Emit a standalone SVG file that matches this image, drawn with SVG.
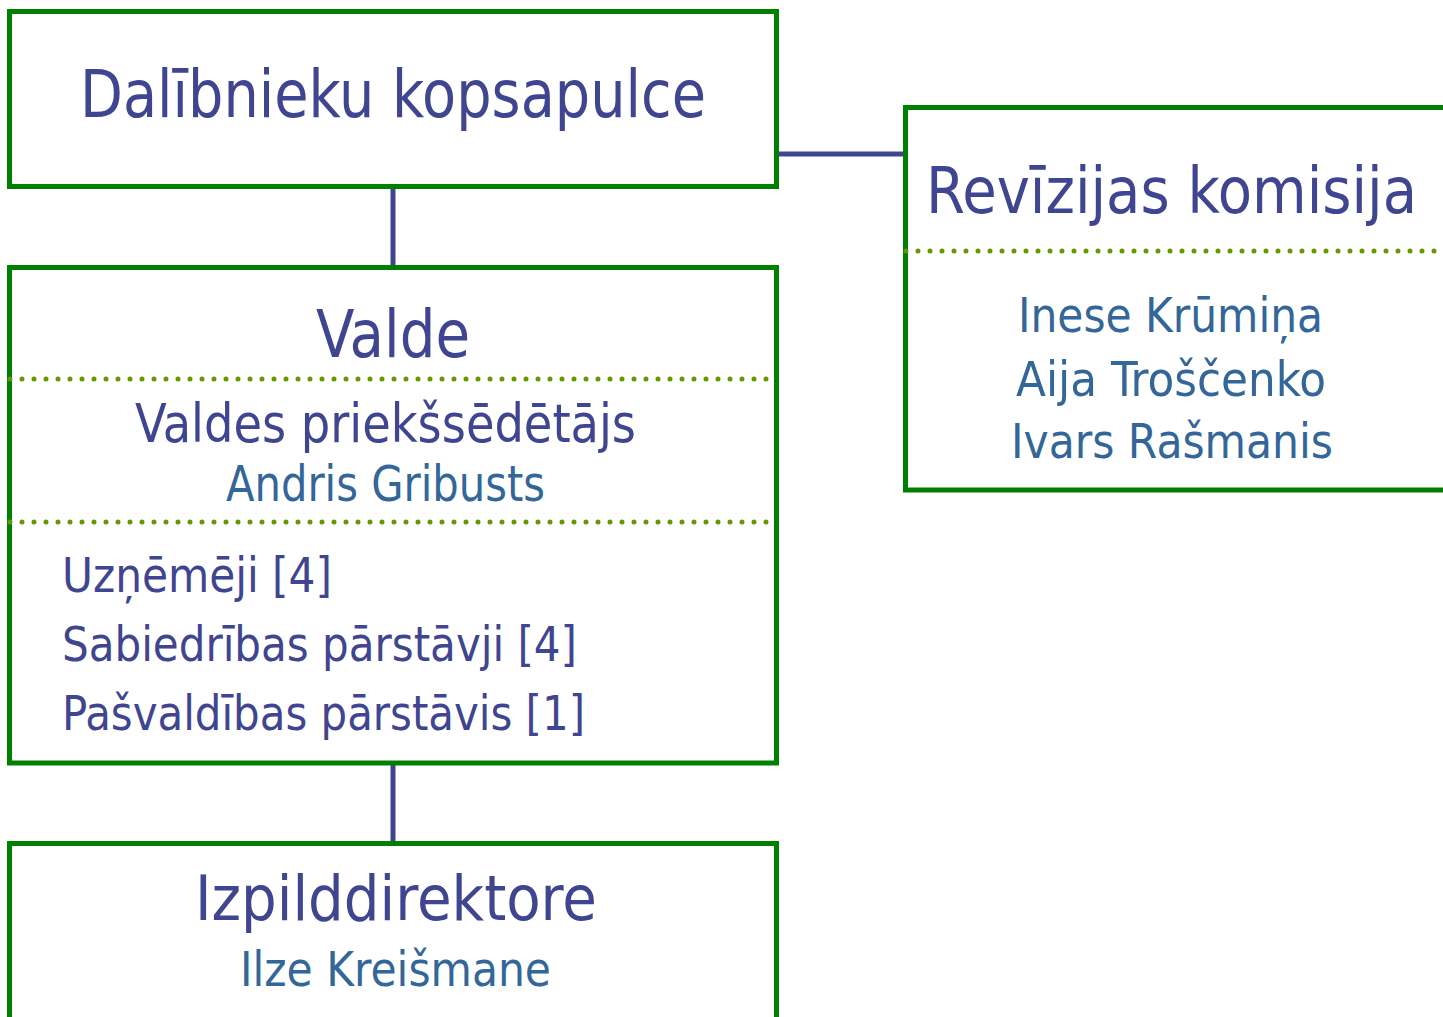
<svg xmlns="http://www.w3.org/2000/svg" width="1443" height="1017" viewBox="0 0 1443 1017">
<style>
.box{fill:#fff;stroke:#008000;stroke-width:5}
.dots{stroke:#669900;stroke-width:5;stroke-linecap:round;stroke-dasharray:0 12;fill:none}
.conn{stroke:#3F4590;stroke-width:5;fill:none}
text{font-family:"DejaVu Sans Condensed","DejaVu Sans",sans-serif;font-stretch:condensed}
.t{fill:#3F4590}
.n{fill:#336699}
</style>
<rect width="1443" height="1017" fill="#fff"/>
<g id="connectors">
<line class="conn" x1="393" y1="186" x2="393" y2="267"/>
<line class="conn" x1="393" y1="763" x2="393" y2="844"/>
<line class="conn" x1="777" y1="154" x2="906" y2="154"/>
</g>
<g id="kopsapulce">
<rect class="box" x="9.5" y="11.5" width="767" height="175"/>
<text class="t" x="80" y="117" font-size="66" textLength="626" lengthAdjust="spacingAndGlyphs">Dalībnieku kopsapulce</text>
</g>
<g id="valde">
<rect class="box" x="9.5" y="267.5" width="767" height="495.5"/>
<text class="t" x="316" y="357" font-size="66" textLength="154" lengthAdjust="spacingAndGlyphs">Valde</text>
<line class="dots" x1="10" y1="379" x2="770" y2="379"/>
<text class="t" x="135" y="442" font-size="53" textLength="501" lengthAdjust="spacingAndGlyphs">Valdes priekšsēdētājs</text>
<text class="n" x="226" y="501" font-size="49" textLength="319" lengthAdjust="spacingAndGlyphs">Andris Gribusts</text>
<line class="dots" x1="10" y1="522" x2="770" y2="522"/>
<text class="t" x="62" y="592" font-size="48" textLength="270" lengthAdjust="spacingAndGlyphs">Uzņēmēji [4]</text>
<text class="t" x="62" y="661" font-size="48" textLength="515" lengthAdjust="spacingAndGlyphs">Sabiedrības pārstāvji [4]</text>
<text class="t" x="62" y="730" font-size="48" textLength="523" lengthAdjust="spacingAndGlyphs">Pašvaldības pārstāvis [1]</text>
</g>
<g id="izpilddirektore">
<rect class="box" x="9.5" y="843.5" width="767" height="200"/>
<text class="t" x="195" y="920" font-size="62" textLength="402" lengthAdjust="spacingAndGlyphs">Izpilddirektore</text>
<text class="n" x="240" y="986" font-size="48" textLength="311" lengthAdjust="spacingAndGlyphs">Ilze Kreišmane</text>
</g>
<g id="revizijas">
<rect class="box" x="905.5" y="107.5" width="560" height="382.5"/>
<text class="t" x="926" y="213" font-size="64" textLength="491" lengthAdjust="spacingAndGlyphs">Revīzijas komisija</text>
<line class="dots" x1="906" y1="251" x2="1443" y2="251"/>
<text class="n" x="1018" y="332" font-size="48" textLength="305" lengthAdjust="spacingAndGlyphs">Inese Krūmiņa</text>
<text class="n" x="1016" y="396" font-size="48" textLength="310" lengthAdjust="spacingAndGlyphs">Aija Troščenko</text>
<text class="n" x="1011" y="458" font-size="48" textLength="322" lengthAdjust="spacingAndGlyphs">Ivars Rašmanis</text>
</g>
</svg>
